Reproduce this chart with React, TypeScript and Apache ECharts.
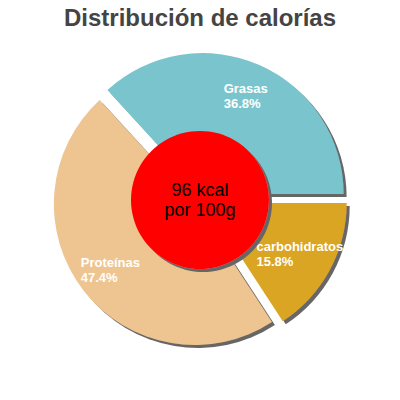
import { useEffect, useRef } from 'react';
import * as echarts from 'echarts';

// slices, clockwise from the upper-left boundary
const names = ['Grasas', 'carbohidratos', 'Proteínas'];
const shares = [36.8, 15.8, 47.4];
const colors = ['#7AC5CD', '#DAA520', '#EEC591'];
const centerText = ['96 kcal', 'por 100g'];
const title = 'Distribución de calorías';

const shadow = {
    shadowColor: '#666',
    shadowBlur: 0,
    shadowOffsetX: 3,
    shadowOffsetY: 3,
};

export default function App() {
    const chartRef = useRef<HTMLDivElement>(null);

    useEffect(() => {
        document.body.style.margin = '0';
        const myChart = echarts.init(chartRef.current, null, { renderer: 'svg' });

        const total = shares.reduce((a, b) => a + b, 0);
        const startAngle = (shares[0] / total) * 360;

        const slices = names.map((name, i) => ({
            name,
            value: shares[i],
            selected: true,
            itemStyle: { color: colors[i] },
        }));

        myChart.setOption({
            animation: false,
            title: {
                text: title,
                left: 'center',
                top: 0,
                textStyle: {
                    fontFamily: 'Liberation Sans',
                    fontSize: 24,
                    fontWeight: 'bold',
                    color: '#444',
                },
            },
            series: [
                {
                    // the visible slices
                    type: 'pie',
                    center: [200, 200],
                    radius: [0, 141],
                    startAngle,
                    clockwise: true,
                    selectedMode: 'multiple',
                    selectedOffset: 6.5,
                    label: { show: false },
                    labelLine: { show: false },
                    emphasis: { disabled: true },
                    itemStyle: { ...shadow },
                    data: slices,
                },
                {
                    // same slices, invisible, only to place the labels further out
                    type: 'pie',
                    center: [200, 200],
                    radius: [67, 141],
                    startAngle,
                    clockwise: true,
                    silent: true,
                    selectedMode: 'multiple',
                    selectedOffset: 6.5,
                    emphasis: { disabled: true },
                    itemStyle: { color: 'transparent' },
                    labelLine: { show: false },
                    label: {
                        show: true,
                        position: 'inside',
                        lineHeight: 15,
                        formatter: (p: any) => `{a|${p.name}}\n{a|${p.value}%}`,
                        rich: {
                            a: {
                                align: 'left',
                                color: '#fff',
                                fontFamily: 'Liberation Sans',
                                fontSize: 13,
                                fontWeight: 'bold',
                                lineHeight: 15,
                            },
                        },
                    },
                    data: names.map((name, i) => ({ name, value: shares[i], selected: true })),
                },
                {
                    // red centre disc
                    type: 'pie',
                    center: [200, 200],
                    radius: [0, 69],
                    silent: true,
                    emphasis: { disabled: true },
                    labelLine: { show: false },
                    itemStyle: { color: '#FF0000', ...shadow },
                    label: {
                        show: true,
                        position: 'center',
                        formatter: centerText.join('\n'),
                        color: '#000',
                        fontFamily: 'Liberation Sans',
                        fontSize: 18,
                        lineHeight: 20,
                    },
                    data: [{ name: 'kcal', value: 96 }],
                },
            ],
        });

        return () => {
            myChart.dispose();
        };
    }, []);

    return <div ref={chartRef} style={{ width: '400px', height: '400px' }} />;
}
